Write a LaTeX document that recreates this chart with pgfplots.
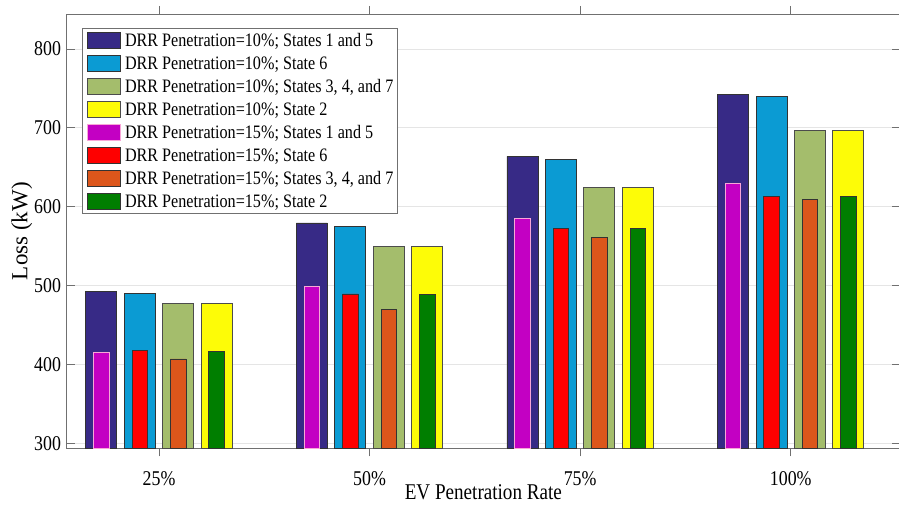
\documentclass[border=0pt]{standalone}
\usepackage{pgfplots}
\pgfplotsset{compat=1.18}
\usepackage{fontspec}
\setmainfont[FakeStretch=0.85]{Liberation Serif}
\newfontfamily\ylabfont{Liberation Serif}
\definecolor{cnavy}{HTML}{372A86}
\definecolor{cblue}{HTML}{0B9BD3}
\definecolor{colive}{HTML}{A4BD6C}
\definecolor{cyellow}{HTML}{FDFC07}
\definecolor{cmag}{HTML}{C300C3}
\definecolor{cred}{HTML}{FE0000}
\definecolor{corange}{HTML}{DC561B}
\definecolor{cgreen}{HTML}{007E00}
\definecolor{axgray}{HTML}{707070}
\begin{document}
\begin{tikzpicture}
\begin{axis}[
  at={(0,0)}, anchor=south west,
  scale only axis,
  width=833.3pt, height=434.3pt,
  xmin=0.5615, xmax=4.519,
  ymin=293.7, ymax=844.4,
  xtick={1,2,3,4},
  xticklabels={25\%,50\%,75\%,100\%},
  ytick={300,400,500,600,700,800},
  xtick pos=both, ytick pos=both,
  tick align=inside,
  major tick length=8pt,
  axis line style={axgray, line width=0.9pt},
  tick style={axgray, line width=0.8pt},
  ymajorgrids,
  grid style={black!10, line width=0.8pt},
  /pgf/number format/assume math mode=true,
  tick label style={font=\fontsize{21}{23}\selectfont},
  xticklabel style={anchor=base, yshift=-29.4pt},
  yticklabel style={anchor=east, inner sep=0pt, xshift=-5.5pt},
  xlabel={EV Penetration Rate},
  ylabel={Loss (kW)},
  every axis x label/.style={at={(axis description cs:0.5,-0.119)}, anchor=base, font=\fontsize{22.5}{25}\selectfont},
  every axis y label/.style={at={(axis description cs:-0.0537,0.5)}, rotate=90, anchor=center, font=\ylabfont\fontsize{23}{25}\selectfont},
  ybar,
  legend style={at={(axis description cs:0.0185,0.968)}, anchor=north west,
    draw=axgray, line width=0.8pt, fill=white,
    font=\fontsize{19}{21}\selectfont,
    row sep=4.6pt, inner xsep=2pt, inner ysep=3pt},
  legend cell align=left,
  legend image code/.code={\path[draw=none,fill=none] (0pt,-8pt) rectangle (38.5pt,8pt);\draw[#1, line width=0.8pt] (3pt,-8.2pt) rectangle (36pt,8.2pt);},
]
% DRR 10% (wide bars)
\addplot[bar width=31pt, bar shift=-57.7pt, fill=cnavy, draw=black!80, line width=0.8pt]
  coordinates {(1,493) (2,579.5) (3,664) (4,742)};
\addplot[bar width=31pt, bar shift=-19.2pt, fill=cblue, draw=black!80, line width=0.8pt]
  coordinates {(1,489.5) (2,574.5) (3,660) (4,739.3)};
\addplot[bar width=31pt, bar shift=19.2pt, fill=colive, draw=black!70, line width=0.8pt]
  coordinates {(1,477.7) (2,550) (3,625) (4,697)};
\addplot[bar width=31pt, bar shift=57.6pt, fill=cyellow, draw=black!70, line width=0.8pt]
  coordinates {(1,477.7) (2,550) (3,625) (4,697)};
% DRR 15% (narrow bars)
\addplot[bar width=15.5pt, bar shift=-57.7pt, fill=cmag, draw=magenta!35, line width=0.8pt]
  coordinates {(1,414.7) (2,498.4) (3,585.7) (4,629.4)};
\addplot[bar width=15.5pt, bar shift=-19.2pt, fill=cred, draw=black!80, line width=0.8pt]
  coordinates {(1,418) (2,489.4) (3,573) (4,613.6)};
\addplot[bar width=15.5pt, bar shift=19.2pt, fill=corange, draw=black!80, line width=0.8pt]
  coordinates {(1,407) (2,470) (3,561.5) (4,609.4)};
\addplot[bar width=15.5pt, bar shift=57.6pt, fill=cgreen, draw=black!80, line width=0.8pt]
  coordinates {(1,417) (2,488.6) (3,572) (4,613.6)};
\legend{DRR Penetration=10\%; States 1 and 5,
        DRR Penetration=10\%; State 6,
        {DRR Penetration=10\%; States 3, 4, and 7},
        DRR Penetration=10\%; State 2,
        DRR Penetration=15\%; States 1 and 5,
        DRR Penetration=15\%; State 6,
        {DRR Penetration=15\%; States 3, 4, and 7},
        DRR Penetration=15\%; State 2}
\end{axis}
\pgfresetboundingbox
\path[use as bounding box] (-66.7pt,-56.7pt) rectangle (832.3pt,448.3pt);
\end{tikzpicture}
\end{document}
